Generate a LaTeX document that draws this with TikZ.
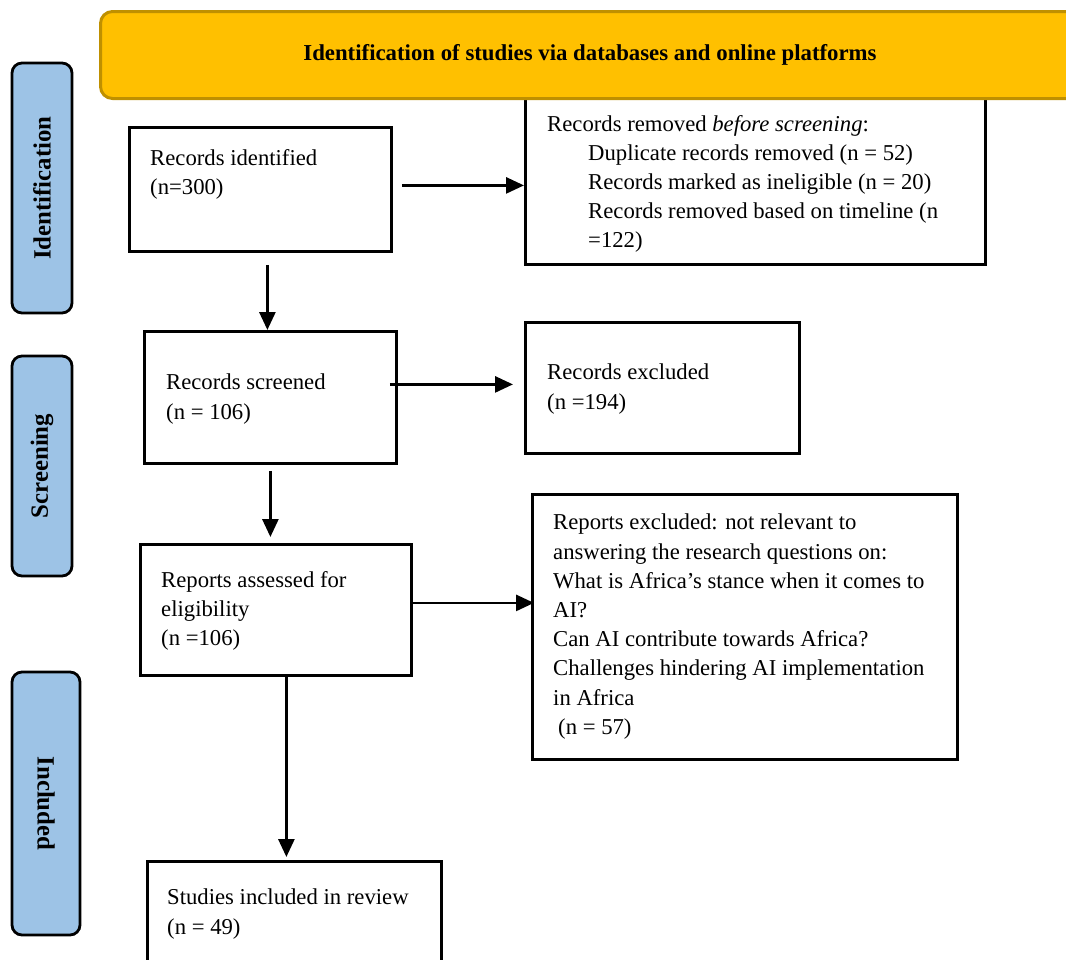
\documentclass[tikz,border=0pt]{standalone}
\usepackage{fontspec}
\setmainfont{Liberation Serif}
\usetikzlibrary{arrows.meta,calc}
\definecolor{hdrfill}{HTML}{FFC000}
\definecolor{hdrdraw}{HTML}{BF9000}
\definecolor{sidefill}{HTML}{9DC3E6}
\begin{document}
\begin{tikzpicture}[x=1pt,y=-1pt,
  box/.style={draw=black,line width=2.8pt,inner sep=0pt,anchor=north west},
  txt/.style={anchor=north west,inner sep=0pt,align=left,font=\fontsize{22.7}{29.2}\selectfont},
  side/.style={draw=black,line width=2.8pt,fill=sidefill,rounded corners=10pt,inner sep=0pt,
    font=\fontsize{24.8}{27}\selectfont\bfseries},
  arr/.style={line width=2.8pt,-{Triangle[length=18pt,width=16pt]}}]
\useasboundingbox (0,0) rectangle (1066,959);
\clip (0,0) rectangle (1066,959);
% boxes
\node[box,minimum width=262pt,minimum height=124pt] (ident) at (128,126) {};
\node[box,minimum width=460pt,minimum height=178pt] (removed) at (524,85) {};
\node[box,minimum width=252pt,minimum height=132pt] (screened) at (143,330) {};
\node[box,minimum width=274pt,minimum height=131pt] (excluded) at (524,321) {};
\node[box,minimum width=271pt,minimum height=131pt] (reports) at (139,543) {};
\node[box,minimum width=425pt,minimum height=265pt] (excl2) at (531,493) {};
\node[box,minimum width=294pt,minimum height=130pt] (included) at (146,860) {};
% header
\node[draw=hdrdraw,fill=hdrfill,line width=3pt,rounded corners=12pt,minimum width=990pt,minimum height=87pt,
  anchor=north west,inner sep=0pt] (hdr) at (99,10) {};
\node[font=\fontsize{22.8}{27}\selectfont\bfseries] (hdrtxt) at (590,55) {Identification of studies via databases and online platforms};
% side labels
\node[side,rotate=90,minimum width=250pt,minimum height=60pt] (sideid) at (42,188) {Identification};
\node[side,rotate=90,minimum width=220pt,minimum height=60pt] (sidesc) at (42,466) {Screening};
\node[side,rotate=-90,minimum width=263pt,minimum height=68pt] (sidein) at (46,803.5) {Included};
% texts
\node[txt] (tident) at (150,149) {Records identified\\(n=300)};
\node[txt] (tremoved) at (547,115) {Records removed \textit{before screening}:\\
\hspace*{41pt}Duplicate records removed (n = 52)\\
\hspace*{41pt}Records marked as ineligible (n = 20)\\
\hspace*{41pt}Records removed based on timeline (n\\
\hspace*{41pt}=122)};
\node[txt] (tscreened) at (166,374) {Records screened\\(n = 106)};
\node[txt] (texcluded) at (547,364) {Records excluded\\(n =194)};
\node[txt] (treports) at (161,571) {Reports assessed for\\eligibility\\(n =106)};
\node[txt] (texcl2) at (553,514) {Reports excluded: not relevant to\\
answering the research questions on:\\
What is Africa’s stance when it comes to\\
AI?\\
Can AI contribute towards Africa?\\
Challenges hindering AI implementation\\
in Africa\\
\hspace*{5pt}(n = 57)};
\node[txt] (tincluded) at (167,889) {Studies included in review\\(n = 49)};
% connectors
\draw[arr] ([xshift=9pt,yshift=4pt]ident.east) -- ([yshift=4pt]ident.east -| removed.west);
\draw[arr] ([xshift=7pt,yshift=-12pt]ident.south) -- ([xshift=7pt]ident.south |- screened.north);
\draw[arr] ($(screened.east)+(-8,-13)$) -- ($(screened.east -| excluded.west)+(-11,-13)$);
\draw[arr] ([yshift=-6pt]screened.south) -- ([yshift=6pt]screened.south |- reports.north);
\draw[arr] ([yshift=7pt]reports.east) -- ([xshift=3pt,yshift=7pt]reports.east -| excl2.west);
\draw[arr] ([xshift=10.5pt]reports.south) -- ([xshift=10.5pt,yshift=3pt]reports.south |- included.north);
\end{tikzpicture}
\end{document}
